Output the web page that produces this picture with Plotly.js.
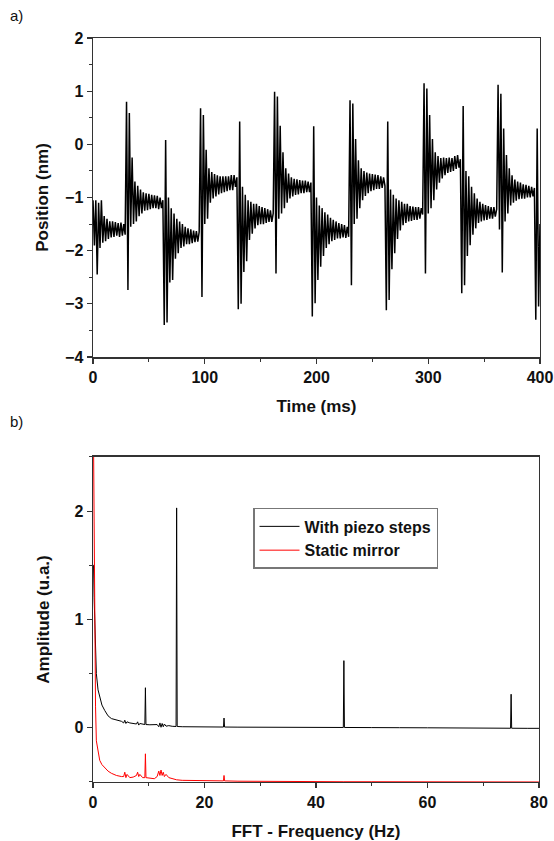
<!DOCTYPE html>
<html>
<head>
<meta charset="utf-8">
<script src="https://cdn.plot.ly/plotly-3.0.1.min.js"></script>
<style>
html,body{margin:0;padding:0;background:#fff;}
#chart{width:554px;height:841px;}
</style>
</head>
<body>
<div id="chart"></div>
<script>
// ---- Panel a) : position vs time (sampled every 1.25 ms, read from the picture) ----
const timeStepMs = 1.25;
const positionNm = [
  -1.05,-1.9,-1.05,-2.45,-1.1,-1.95,-1.05,-1.85,-1.35,-1.82,-1.4,-1.78,-1.45,-1.75,-1.45,-1.74,-1.46,-1.72,-1.48,-1.74,-1.47,-1.72,-1.5,-1.7,
  0.8,-2.74,0.59,-1.55,-0.25,-1.5,-0.7,-1.45,-0.78,-1.35,-0.85,-1.3,-0.9,-1.25,-0.92,-1.24,-0.93,-1.22,-0.95,-1.2,-0.96,-1.2,-0.97,-1.22,-1.0,-1.2,-1.05,
  -3.4,0.08,-3.35,-1.0,-2.6,-1.2,-2.55,-1.3,-2.15,-1.4,-2.05,-1.45,-1.95,-1.5,-1.92,-1.55,-1.88,-1.58,-1.88,-1.6,-1.86,-1.62,-1.84,-1.63,-1.83,-1.65,
  0.68,-2.87,0.55,-1.5,-0.1,-1.4,-0.45,-1.1,-0.52,-1.02,-0.56,-0.98,-0.58,-0.94,-0.6,-0.92,-0.6,-0.9,-0.6,-0.88,-0.6,-0.86,-0.58,-0.86,-0.58,-0.8,-0.62,
  -3.1,0.43,-3.0,-0.8,-2.4,-0.95,-2.2,-1.05,-1.8,-1.08,-1.68,-1.12,-1.58,-1.12,-1.52,-1.16,-1.5,-1.18,-1.5,-1.2,-1.48,-1.22,-1.46,-1.24,-1.46,-1.3,
  0.99,-2.43,0.9,-1.4,0.35,-1.3,-0.15,-1.2,-0.45,-1.1,-0.55,-1.02,-0.62,-0.98,-0.65,-0.95,-0.66,-0.94,-0.67,-0.92,-0.68,-0.92,-0.68,-0.9,-0.7,-0.9,-0.72,
  -3.24,0.34,-2.99,-1.0,-2.55,-1.15,-2.3,-1.2,-2.1,-1.28,-1.95,-1.32,-1.88,-1.38,-1.82,-1.42,-1.8,-1.45,-1.77,-1.48,-1.77,-1.5,-1.75,-1.52,-1.76,-1.55,-1.74,
  0.83,-2.65,0.77,-1.5,0.1,-1.4,-0.3,-1.2,-0.45,-1.05,-0.5,-0.97,-0.53,-0.92,-0.55,-0.88,-0.56,-0.86,-0.57,-0.84,-0.58,-0.84,-0.6,-0.82,-0.62,-0.78,
  -3.12,0.43,-2.93,-0.85,-2.35,-0.95,-2.05,-1.02,-1.78,-1.05,-1.62,-1.08,-1.52,-1.12,-1.48,-1.12,-1.45,-1.16,-1.44,-1.17,-1.42,-1.18,-1.42,-1.18,-1.4,-1.2,-1.32,
  1.15,-2.43,1.05,-1.3,0.55,-1.2,0.1,-1.05,-0.15,-0.85,-0.22,-0.72,-0.26,-0.64,-0.25,-0.58,-0.26,-0.54,-0.25,-0.52,-0.26,-0.5,-0.22,-0.46,-0.2,-0.44,-0.28,
  -2.8,0.72,-2.65,-0.5,-2.1,-0.6,-1.9,-0.8,-1.7,-0.92,-1.58,-1.02,-1.48,-1.08,-1.45,-1.12,-1.43,-1.14,-1.42,-1.16,-1.4,-1.18,-1.4,-1.18,-1.36,-1.22,
  1.12,-1.6,0.95,-2.41,0.3,-1.45,-0.2,-1.3,-0.45,-1.15,-0.58,-1.1,-0.66,-1.06,-0.7,-1.03,-0.72,-1.02,-0.75,-1.02,-0.76,-1.0,-0.78,-1.0,-0.8,-0.98,-0.82,
  -3.3,0.3,-3.05,-1.5
];
const timeMs = positionNm.map((_, i) => i * timeStepMs);

// ---- Panel b) : FFT amplitude ----
const piezoFreqHz = [0,0.1,0.2,0.3,0.45,0.6,0.9,1.2,1.6,2.1,2.7,3.3,4.2,5.1,5.5,5.7,5.9,6.1,6.6,7.2,7.8,8.0,8.2,8.4,8.9,9.3,9.4,9.5,10.2,11.0,11.5,11.8,12.0,12.2,12.4,12.6,12.8,13.1,13.6,14.2,14.9,15.0,15.1,16,18,20,23.4,23.5,23.6,26,30,35,40,44.9,45.0,45.1,50,53,55,60,65,70,74.9,75.0,75.1,78,80];
const piezoAmp    = [1.5,1.5,1.2,0.95,0.7,0.5,0.35,0.28,0.21,0.16,0.11,0.085,0.07,0.06,0.045,0.07,0.04,0.055,0.045,0.04,0.035,0.055,0.025,0.04,0.032,0.03,0.37,0.03,0.028,0.025,0.03,0.01,0.045,0.005,0.04,0.01,0.035,0.015,0.02,0.014,0.012,2.03,0.012,0.01,0.009,0.008,0.007,0.09,0.007,0.006,0.005,0.004,0.003,0.003,0.62,0.003,0.002,-0.002,0.001,0.0,-0.001,-0.003,-0.004,0.31,-0.004,-0.005,-0.005];
const mirrorFreqHz = [0,0.1,0.2,0.3,0.45,0.6,0.9,1.2,1.6,2.1,2.7,3.3,4.2,5.1,5.5,5.7,5.9,6.1,6.6,7.2,7.8,8.0,8.2,8.4,8.9,9.3,9.4,9.5,10.2,11.0,11.5,11.8,12.0,12.2,12.4,12.6,12.8,13.1,13.6,14.2,15,16,18,20,23.4,23.5,23.6,26,30,35,40,45,50,55,60,70,80];
const mirrorAmp    = [2.6,2.6,1.9,0.9,0.2,-0.12,-0.22,-0.3,-0.34,-0.37,-0.4,-0.42,-0.44,-0.45,-0.45,-0.41,-0.46,-0.43,-0.46,-0.455,-0.44,-0.41,-0.45,-0.43,-0.46,-0.46,-0.24,-0.46,-0.465,-0.47,-0.45,-0.4,-0.44,-0.39,-0.44,-0.41,-0.45,-0.43,-0.46,-0.47,-0.48,-0.485,-0.488,-0.49,-0.49,-0.44,-0.49,-0.493,-0.495,-0.496,-0.497,-0.498,-0.498,-0.499,-0.5,-0.5,-0.5];

const seriesNames = ['With piezo steps', 'Static mirror'];

const FONT = 'Liberation Sans, Arial, sans-serif';
const tickFont = {family: FONT, size: 16, color: '#111', weight: 'bold'};
const titleFont = {family: FONT, size: 17, color: '#111', weight: 'bold'};

const axisBase = {
  showline: true, linecolor: '#333', linewidth: 1.5, mirror: true,
  ticks: 'outside', ticklen: 5, tickwidth: 1.3, tickcolor: '#333',
  showgrid: false, zeroline: false, tickfont: tickFont, automargin: false,
  minor: {ticks: 'outside', ticklen: 3, tickwidth: 1, tickcolor: '#333', showgrid: false}
};

const traces = [
  {x: timeMs, y: positionNm, type: 'scatter', mode: 'lines', xaxis: 'x', yaxis: 'y',
   line: {color: '#000', width: 1.5}, showlegend: false},
  {x: piezoFreqHz, y: piezoAmp, type: 'scatter', mode: 'lines', xaxis: 'x2', yaxis: 'y2',
   name: seriesNames[0], line: {color: '#000', width: 1}},
  {x: mirrorFreqHz, y: mirrorAmp, type: 'scatter', mode: 'lines', xaxis: 'x2', yaxis: 'y2',
   name: seriesNames[1], line: {color: '#ff0000', width: 1}}
];

const layout = {
  width: 554, height: 841,
  margin: {l: 0, r: 0, t: 0, b: 0},
  paper_bgcolor: '#fff', plot_bgcolor: '#fff',
  showlegend: true,
  xaxis: Object.assign({}, axisBase, {
    domain: [0.1679, 0.9747], anchor: 'y', range: [0, 400], dtick: 100, tick0: 0,
    minor: Object.assign({}, axisBase.minor, {dtick: 50}),
    title: {text: 'Time (ms)', font: titleFont, standoff: 15}
  }),
  yaxis: Object.assign({}, axisBase, {
    domain: [0.5755, 0.9548], anchor: 'x', range: [-4, 2], dtick: 1, tick0: 0,
    minor: Object.assign({}, axisBase.minor, {dtick: 0.5}),
    title: {text: 'Position (nm)', font: titleFont, standoff: 12}
  }),
  xaxis2: Object.assign({}, axisBase, {
    domain: [0.1679, 0.9729], anchor: 'y2', range: [0, 80], dtick: 20, tick0: 0,
    minor: Object.assign({}, axisBase.minor, {dtick: 10}),
    title: {text: 'FFT - Frequency (Hz)', font: titleFont, standoff: 15}
  }),
  yaxis2: Object.assign({}, axisBase, {
    domain: [0.0702, 0.4566], anchor: 'x2', range: [-0.5, 2.5], dtick: 1, tick0: 0,
    minor: Object.assign({}, axisBase.minor, {dtick: 0.5}),
    title: {text: 'Amplitude (u.a.)', font: titleFont, standoff: 20}
  }),
  legend: {
    x: 0.4567, y: 0.396, xanchor: 'left', yanchor: 'top',
    bgcolor: '#fff', bordercolor: '#777', borderwidth: 1.5,
    font: {family: FONT, size: 16, color: '#111', weight: 'bold'},
    itemwidth: 40, tracegroupgap: 0
  },
  annotations: [
    {text: 'a)', xref: 'paper', yref: 'paper', x: 8/554, y: 1 - 16/841, xanchor: 'left', yanchor: 'middle',
     showarrow: false, font: {family: FONT, size: 15, color: '#111'}},
    {text: 'b)', xref: 'paper', yref: 'paper', x: 8/554, y: 1 - 421/841, xanchor: 'left', yanchor: 'middle',
     showarrow: false, font: {family: FONT, size: 15, color: '#111'}}
  ]
};

Plotly.newPlot('chart', traces, layout, {staticPlot: true, displayModeBar: false});
</script>
</body>
</html>
